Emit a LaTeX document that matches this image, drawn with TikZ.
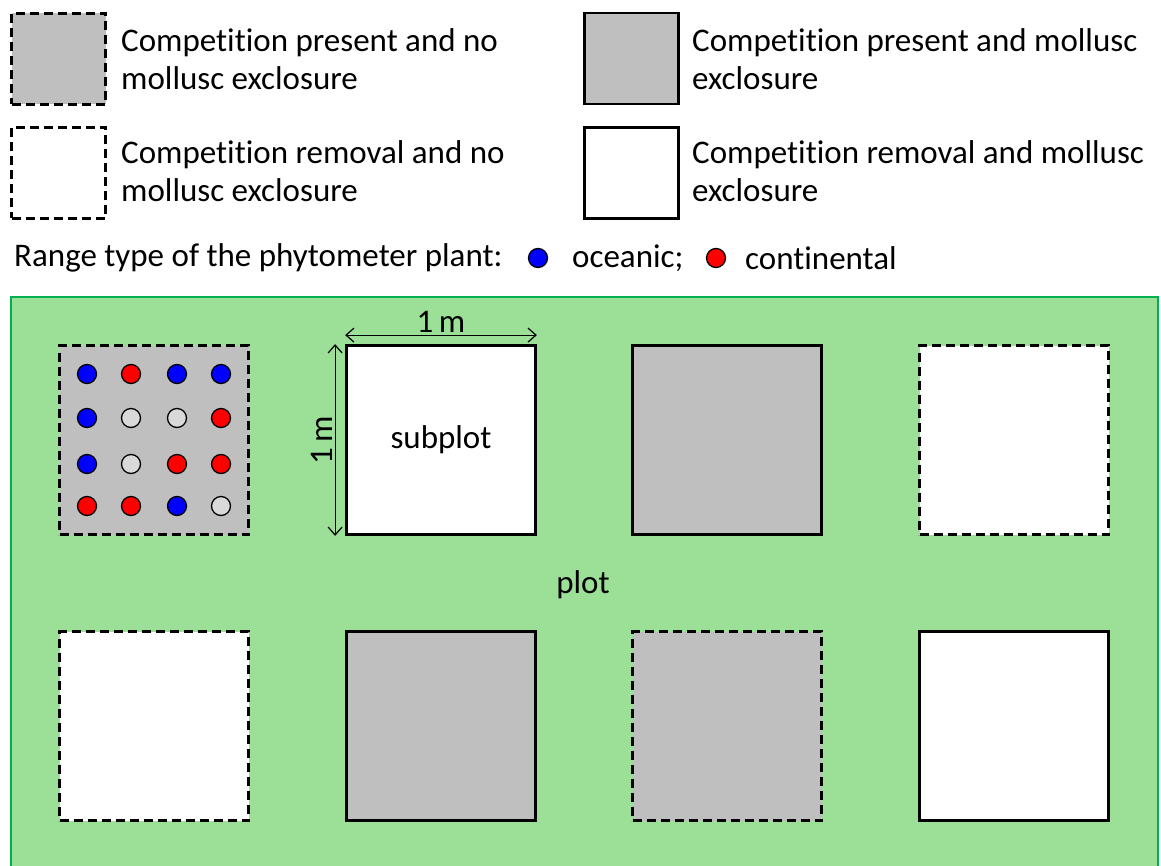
\documentclass[tikz,border=0pt]{standalone}
\usepackage{fontspec}
\setmainfont[Ligatures=NoCommon]{Carlito}
\usetikzlibrary{arrows.meta}

\definecolor{plotgreen}{RGB}{155,224,150}
\definecolor{edgegreen}{RGB}{0,176,80}
\definecolor{boxgrey}{RGB}{191,191,191}
\definecolor{emptydot}{RGB}{217,217,217}

\tikzset{
  solidbox/.style={draw, line width=2.8pt, inner sep=0pt},
  dashbox/.style={solidbox, dash pattern=on 9pt off 5pt},
  subplot/.style={minimum width=189pt, minimum height=189pt},
  keybox/.style={minimum width=94pt, minimum height=91pt},
  bigfont/.style={font=\fontsize{33}{38}\selectfont},
  keytext/.style={anchor=west, align=left, inner sep=0pt, bigfont},
  plant/.style={circle, draw, line width=1.3pt, minimum size=19pt, inner sep=0pt},
  dimline/.style={line width=1.2pt, {Straight Barb[length=8pt,width=14pt]}-{Straight Barb[length=8pt,width=14pt]}}
}

\begin{document}
\begin{tikzpicture}[x=1pt,y=-1pt]
  \useasboundingbox (0,0) rectangle (1161,866);
  \clip (0,0) rectangle (1161,866);

  % Define legend
  \node[dashbox, keybox, fill=boxgrey] (k1) at (58.5,59) {};
  \node[keytext] (t1) at (121,59) {Competition present and no\\mollusc exclosure};
  \node[solidbox, keybox, fill=boxgrey] (k2) at (631.5,58.5) {};
  \node[keytext] (t2) at (692,59) {Competition present and mollusc\\exclosure};
  \node[dashbox, keybox, fill=white] (k3) at (58.5,173) {};
  \node[keytext] (t3) at (121,171) {Competition removal and no\\mollusc exclosure};
  \node[solidbox, keybox, fill=white] (k4) at (631.5,173) {};
  \node[keytext] (t4) at (692,171) {Competition removal and mollusc\\exclosure};

  \node[keytext] (range) at (14,258) {Range type of the phytometer plant:};
  \node[plant, fill=blue] (oc) at (538,258) {};
  \node[keytext] (oct) at (572,258) {oceanic;};
  \node[plant, fill=red] (co) at (716,258) {};
  \node[keytext] (cot) at (745,258) {continental};

  % Define plot
  \draw[edgegreen, fill=plotgreen, line width=2.8pt] (11,297) rectangle (1158,890);
  \node[bigfont] (plot) at (583,585) {plot};

  % Define subplots
  \node[dashbox, subplot, fill=boxgrey] (s11) at (154,440) {};
  \node[solidbox, subplot, fill=white] (s12) at (441,440) {};
  \node[solidbox, subplot, fill=boxgrey] (s13) at (727,440) {};
  \node[dashbox, subplot, fill=white] (s14) at (1014,440) {};
  \node[dashbox, subplot, fill=white] (s21) at (154,726) {};
  \node[solidbox, subplot, fill=boxgrey] (s22) at (441,726) {};
  \node[dashbox, subplot, fill=boxgrey] (s23) at (727,726) {};
  \node[solidbox, subplot, fill=white] (s24) at (1014,726) {};
  \node[bigfont] (sub) at (s12) {subplot};

  % Define plants
  \foreach \row/\y/\cols in {1/374/{blue,red,blue,blue},
                             2/418/{blue,emptydot,emptydot,red},
                             3/464/{blue,emptydot,red,red},
                             4/506/{red,red,blue,emptydot}}{
    \foreach \c [count=\col] in \cols{
      \pgfmathsetmacro{\x}{{87,131,177,221}[\col-1]}
      \node[plant, fill=\c] (p\row\col) at (\x,\y) {};
    }
  }

  % Define dimensions
  \coordinate (tl) at ([shift={(0,-9)}]s12.north west);
  \coordinate (tr) at ([shift={(0,-9)}]s12.north east);
  \draw[dimline] (tl) -- node[above=2pt, inner sep=0pt, bigfont] (w) {1\,m} (tr);
  \coordinate (lt) at ([shift={(-10,0)}]s12.north west);
  \coordinate (lb) at ([shift={(-10,0)}]s12.south west);
  \draw[dimline] (lb) -- node[above=2pt, inner sep=0pt, sloped, bigfont] (h) {1\,m} (lt);
\end{tikzpicture}
\end{document}
